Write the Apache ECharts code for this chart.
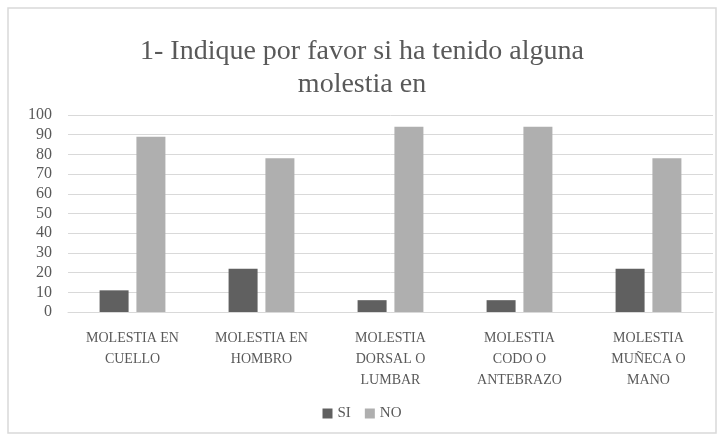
<!DOCTYPE html>
<html>
<head>
<meta charset="utf-8">
<script src="https://cdn.jsdelivr.net/npm/echarts@6/dist/echarts.min.js"></script>
<style>
  html, body { margin: 0; padding: 0; background: #fff; }
  #chart { width: 724px; height: 440px; }
</style>
</head>
<body>
<div id="chart"></div>
<script>
var categories = [
    'MOLESTIA EN\nCUELLO',
    'MOLESTIA EN\nHOMBRO',
    'MOLESTIA\nDORSAL O\nLUMBAR',
    'MOLESTIA\nCODO O\nANTEBRAZO',
    'MOLESTIA\nMUÑECA O\nMANO'
];
var siValues = [11, 22, 6, 6, 22];
var noValues = [89, 78, 94, 94, 78];

var fontFam = '"Liberation Serif", "DejaVu Serif", serif';
var myChart = echarts.init(document.getElementById('chart'));

var option = {
    backgroundColor: '#fff',
    animation: false,
    textStyle: { fontFamily: fontFam },
    graphic: [{
        type: 'rect',
        shape: { x: 8, y: 8, width: 708, height: 425 },
        style: { fill: 'none', stroke: '#d9d9d9', lineWidth: 1.5 },
        silent: true
    }],
    title: {
        text: '1- Indique por favor si ha tenido alguna\nmolestia en',
        left: 'center',
        top: 30,
        textStyle: {
            fontFamily: fontFam,
            fontWeight: 'normal',
            fontSize: 28,
            lineHeight: 33,
            color: '#595959'
        }
    },
    legend: {
        data: ['SI', 'NO'],
        bottom: 14,
        left: 'center',
        itemWidth: 10,
        itemHeight: 10,
        itemGap: 14,
        itemTextGap: 3,
        icon: 'rect',
        textStyle: { fontFamily: fontFam, fontSize: 15, color: '#595959' }
    },
    grid: { left: 68, right: 11, top: 115, bottom: 128, containLabel: false },
    xAxis: {
        type: 'category',
        data: categories,
        axisLine: { show: true, lineStyle: { color: '#d9d9d9', width: 1 } },
        axisTick: { show: false },
        axisLabel: {
            interval: 0,
            margin: 16,
            fontFamily: fontFam,
            fontSize: 14,
            lineHeight: 21,
            color: '#595959'
        }
    },
    yAxis: {
        type: 'value',
        min: 0,
        max: 100,
        interval: 10,
        axisLine: { show: false },
        axisTick: { show: false },
        splitLine: { lineStyle: { color: '#d9d9d9', width: 1 } },
        axisLabel: {
            margin: 16,
            fontFamily: fontFam,
            fontSize: 16,
            color: '#595959'
        }
    },
    series: [
        {
            name: 'SI',
            type: 'bar',
            data: siValues,
            barWidth: 29,
            barGap: '27%',
            itemStyle: { color: '#606060' }
        },
        {
            name: 'NO',
            type: 'bar',
            data: noValues,
            barWidth: 29,
            barGap: '27%',
            itemStyle: { color: '#afafaf' }
        }
    ]
};

myChart.setOption(option);
</script>
</body>
</html>
